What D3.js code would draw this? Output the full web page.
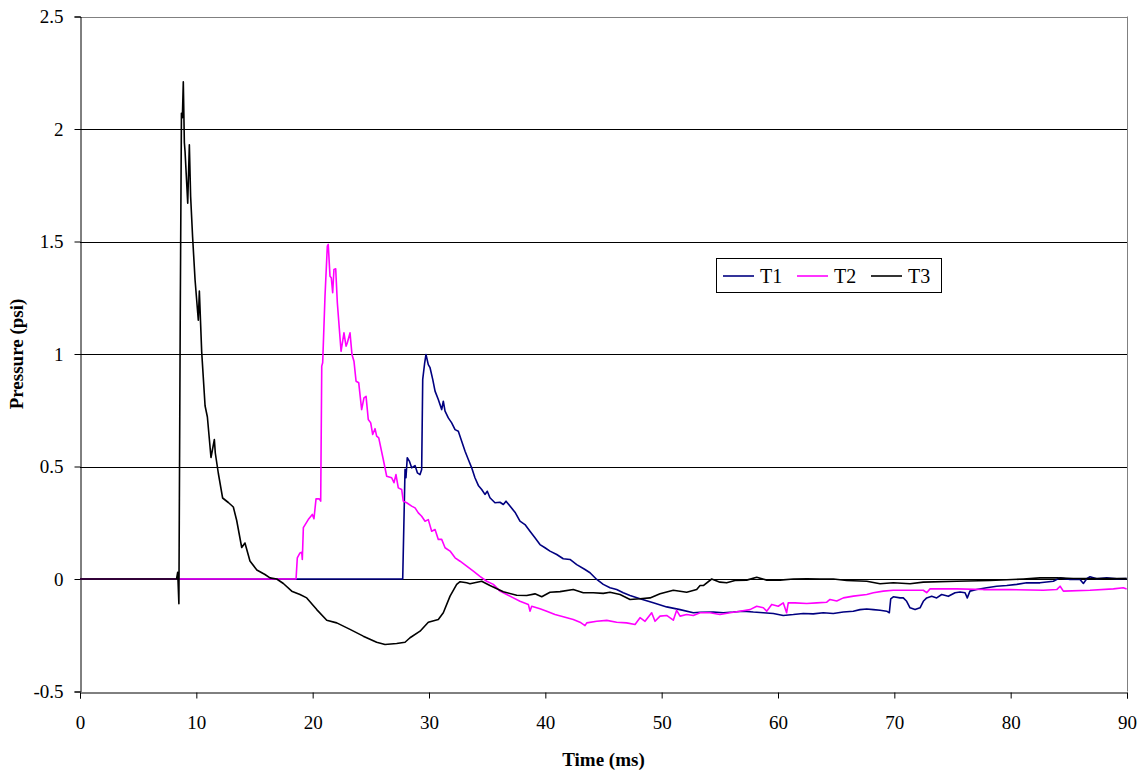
<!DOCTYPE html>
<html><head><meta charset="utf-8">
<script src="https://cdn.jsdelivr.net/npm/d3@7"></script>
<style>body{margin:0;background:#fff}svg{display:block}text{font-family:"Liberation Serif","Times New Roman",serif}</style>
</head><body><svg id="c" width="1145" height="774"></svg>
<script>
const xTicks=[0,10,20,30,40,50,60,70,80,90];
const yTicks=[-0.5,0,0.5,1,1.5,2,2.5];
const seriesNames=["T1","T2","T3"];
const seriesColors=["#000080","#FF00FF","#000000"];
const t1=[[0,0],[27.74,0],[27.94,0.487],[28.02,0.45],[28.13,0.539],[28.31,0.524],[28.51,0.494],[28.8,0.504],[29.0,0.472],[29.23,0.464],[29.37,0.487],[29.46,0.887],[29.63,0.961],[29.74,0.998],[29.94,0.953],[30.09,0.939],[30.32,0.887],[30.52,0.835],[30.8,0.798],[31.09,0.753],[31.23,0.79],[31.38,0.746],[31.66,0.716],[31.95,0.694],[32.24,0.664],[32.52,0.657],[32.81,0.612],[33.1,0.568],[33.38,0.531],[33.67,0.494],[33.95,0.45],[34.24,0.416],[34.53,0.398],[34.81,0.376],[35.01,0.39],[35.24,0.361],[35.67,0.339],[36.1,0.341],[36.39,0.331],[36.62,0.346],[36.96,0.324],[37.39,0.297],[37.82,0.257],[38.25,0.242],[38.68,0.212],[39.11,0.183],[39.54,0.153],[39.97,0.139],[40.4,0.124],[40.98,0.109],[41.54,0.09],[42.12,0.087],[42.7,0.064],[43.41,0.042],[43.84,0.028],[44.42,-0.002],[44.98,-0.024],[45.56,-0.039],[46.13,-0.047],[46.7,-0.061],[47.28,-0.073],[48.14,-0.088],[49.28,-0.106],[50.43,-0.124],[51.58,-0.136],[52.72,-0.15],[53.3,-0.148],[54.44,-0.147],[55.3,-0.15],[56.16,-0.147],[57.02,-0.143],[57.88,-0.147],[58.74,-0.15],[59.6,-0.153],[60.45,-0.162],[61.32,-0.158],[62.17,-0.153],[63.03,-0.155],[63.89,-0.15],[64.75,-0.153],[65.61,-0.147],[66.47,-0.143],[67.05,-0.136],[67.63,-0.133],[68.2,-0.136],[68.77,-0.139],[69.34,-0.143],[69.57,-0.15],[69.69,-0.088],[69.91,-0.079],[70.49,-0.084],[70.77,-0.084],[71.06,-0.099],[71.35,-0.128],[71.78,-0.136],[72.21,-0.128],[72.49,-0.099],[72.78,-0.084],[73.21,-0.077],[73.64,-0.084],[74.07,-0.069],[74.64,-0.077],[75.22,-0.061],[75.65,-0.058],[76.08,-0.061],[76.27,-0.084],[76.5,-0.054],[77.08,-0.047],[77.94,-0.039],[78.8,-0.032],[79.66,-0.029],[80.52,-0.024],[81.38,-0.017],[82.52,-0.017],[83.67,-0.01],[84.24,0.005],[85.1,-0.002],[85.96,-0.002],[86.25,-0.02],[86.54,0.001],[86.82,0.01],[87.4,0.001],[88.26,0.005],[89.12,0.001],[89.97,0.002]];
const t2=[[0,0],[18.57,0],[18.68,0.094],[18.91,0.116],[19.06,0.119],[19.11,0.087],[19.2,0.228],[19.62,0.264],[19.97,0.287],[20.11,0.268],[20.29,0.356],[20.57,0.356],[20.69,0.346],[20.78,0.946],[20.86,0.961],[21.06,1.257],[21.26,1.479],[21.34,1.487],[21.49,1.346],[21.6,1.339],[21.72,1.272],[21.83,1.376],[21.98,1.379],[22.12,1.228],[22.44,1.012],[22.69,1.094],[22.87,1.035],[22.98,1.05],[23.21,1.094],[23.38,0.998],[23.55,0.968],[23.73,0.879],[23.96,0.872],[24.21,0.753],[24.41,0.805],[24.59,0.812],[24.78,0.709],[24.99,0.694],[25.16,0.642],[25.36,0.668],[25.5,0.635],[25.68,0.627],[26.07,0.531],[26.36,0.457],[26.79,0.45],[26.99,0.428],[27.16,0.464],[27.36,0.405],[27.65,0.398],[27.79,0.346],[28.08,0.339],[28.51,0.324],[28.8,0.316],[29.08,0.294],[29.37,0.279],[29.66,0.257],[29.94,0.264],[30.23,0.212],[30.52,0.22],[30.8,0.176],[31.09,0.176],[31.38,0.139],[31.81,0.124],[32.24,0.094],[32.67,0.079],[33.24,0.057],[33.81,0.035],[34.38,0.012],[34.96,-0.01],[35.53,-0.024],[36.1,-0.054],[36.68,-0.069],[37.25,-0.084],[37.82,-0.099],[38.54,-0.113],[38.68,-0.143],[38.83,-0.121],[39.54,-0.132],[40.12,-0.143],[40.83,-0.158],[41.54,-0.168],[42.4,-0.18],[42.98,-0.192],[43.41,-0.207],[43.56,-0.195],[44.42,-0.188],[45.28,-0.184],[46.13,-0.192],[46.99,-0.195],[47.71,-0.202],[48.14,-0.172],[48.57,-0.188],[49.14,-0.15],[49.43,-0.188],[49.86,-0.165],[50.43,-0.162],[51.0,-0.183],[51.29,-0.139],[51.58,-0.165],[52.15,-0.158],[52.72,-0.162],[53.3,-0.15],[54.16,-0.15],[55.01,-0.158],[55.87,-0.15],[56.73,-0.143],[57.59,-0.136],[58.17,-0.121],[58.74,-0.128],[59.03,-0.143],[59.46,-0.113],[60.02,-0.121],[60.45,-0.106],[60.74,-0.15],[60.88,-0.106],[61.46,-0.106],[62.47,-0.109],[63.33,-0.106],[64.19,-0.103],[64.47,-0.091],[65.05,-0.098],[65.62,-0.084],[66.48,-0.076],[67.63,-0.069],[68.2,-0.061],[69.05,-0.054],[69.91,-0.05],[71.06,-0.05],[72.49,-0.05],[72.78,-0.061],[73.07,-0.044],[75.36,-0.044],[77.65,-0.047],[79.94,-0.047],[82.81,-0.05],[83.96,-0.047],[84.25,-0.032],[84.53,-0.054],[86.82,-0.05],[88.83,-0.044],[89.68,-0.039],[89.97,-0.044]];
const t3=[[0,0],[8.3,0],[8.4,0.03],[8.5,-0.11],[8.62,1.2],[8.72,2.07],[8.8,2.05],[8.88,2.21],[8.97,1.94],[9.03,1.9],[9.26,1.67],[9.4,1.93],[9.51,1.7],[9.68,1.52],[9.89,1.33],[10.17,1.15],[10.26,1.28],[10.46,1.01],[10.75,0.77],[10.95,0.72],[11.26,0.54],[11.55,0.62],[11.63,0.56],[11.89,0.47],[12.26,0.36],[12.75,0.34],[13.18,0.32],[13.47,0.26],[13.9,0.14],[14.18,0.16],[14.61,0.08],[15.2,0.04],[15.9,0.02],[16.33,0.005],[16.91,0],[17.48,-0.02],[18.2,-0.054],[18.91,-0.069],[19.49,-0.084],[20.35,-0.136],[21.21,-0.183],[22.07,-0.195],[23.21,-0.224],[24.35,-0.254],[25.5,-0.281],[26.22,-0.291],[27.22,-0.287],[27.94,-0.281],[28.37,-0.261],[29.23,-0.232],[29.94,-0.192],[30.8,-0.18],[31.23,-0.15],[31.81,-0.076],[32.38,-0.024],[32.67,-0.012],[33.24,-0.017],[33.52,-0.021],[34.53,-0.01],[35.24,-0.029],[36.39,-0.057],[37.54,-0.072],[38.4,-0.073],[39.11,-0.066],[39.69,-0.079],[40.4,-0.059],[41.26,-0.056],[42.4,-0.047],[43.26,-0.061],[44.12,-0.061],[44.98,-0.064],[45.56,-0.059],[46.42,-0.069],[47.28,-0.091],[48.14,-0.088],[49.0,-0.084],[49.86,-0.066],[51.0,-0.05],[52.15,-0.059],[53.01,-0.047],[53.3,-0.029],[53.58,-0.029],[54.3,0],[55.01,-0.014],[55.59,-0.017],[56.3,-0.007],[57.31,-0.005],[58.17,0.008],[59.03,-0.005],[60.18,-0.005],[61.32,0],[62.47,0.001],[63.61,0],[64.76,0],[65.91,-0.007],[67.63,-0.01],[68.77,-0.021],[69.91,-0.017],[71.35,-0.021],[72.49,-0.014],[75.36,-0.01],[78.22,-0.007],[81.09,0],[82.52,0.005],[83.96,0.005],[85.38,0.002],[86.82,0.002],[88.26,0.002],[89.97,0.002]];
const seriesData=[t1,t2,t3];

const svg=d3.select("#c");
const L=80,R=1127,T=16.5,B=691.5;
const x=d3.scaleLinear().domain([0,90]).range([L,R]);
const y=d3.scaleLinear().domain([-0.5,2.5]).range([B,T]);

svg.append("g").selectAll("line").data(yTicks.filter(d=>d>-0.5)).join("line")
  .attr("x1",L).attr("x2",R).attr("y1",d=>Math.round(y(d))+0.5).attr("y2",d=>Math.round(y(d))+0.5)
  .attr("stroke",d=>d===2.5?"#808080":"#000").attr("stroke-width",1);
svg.append("line").attr("x1",R+0.5).attr("x2",R+0.5).attr("y1",T).attr("y2",B).attr("stroke","#808080");

const xa=svg.append("g").attr("transform",`translate(0,${Math.round(B)+0.5})`)
  .call(d3.axisBottom(x).tickValues(xTicks).tickSize(6).tickPadding(17).tickFormat(d3.format("d")));
const ya=svg.append("g").attr("transform",`translate(${L+0.5},0)`)
  .call(d3.axisLeft(y).tickValues(yTicks).tickSize(6).tickPadding(11).tickFormat(d=>String(d)));
[xa,ya].forEach(a=>{a.select(".domain").attr("stroke","#000");a.selectAll(".tick line").attr("stroke","#000");
  a.selectAll("text").attr("font-family","Liberation Serif, Times New Roman, serif").attr("font-size",19).attr("fill","#000");});

const line=d3.line().x(d=>x(d[0])).y(d=>y(d[1]));
svg.append("g").selectAll("path").data(seriesData).join("path")
  .attr("d",line).attr("fill","none").attr("stroke",(d,i)=>seriesColors[i]).attr("stroke-width",1.6).attr("stroke-linejoin","round");

svg.append("text").attr("x",(L+R)/2).attr("y",766).attr("text-anchor","middle").attr("font-weight","bold").attr("font-size",19).text("Time (ms)");
svg.append("text").attr("transform",`translate(23,${(T+B)/2}) rotate(-90)`).attr("text-anchor","middle").attr("font-weight","bold").attr("font-size",19).text("Pressure (psi)");

const lg=svg.append("g");
lg.append("rect").attr("x",716.5).attr("y",258.5).attr("width",225).attr("height",34).attr("fill","#fff").attr("stroke","#000");
const lx=[723,797,871];
seriesNames.forEach((n,i)=>{
  lg.append("line").attr("x1",lx[i]).attr("x2",lx[i]+31).attr("y1",276).attr("y2",276).attr("stroke",seriesColors[i]).attr("stroke-width",1.6);
  lg.append("text").attr("x",lx[i]+37).attr("y",283).attr("font-size",20).text(n);
});
</script></body></html>
